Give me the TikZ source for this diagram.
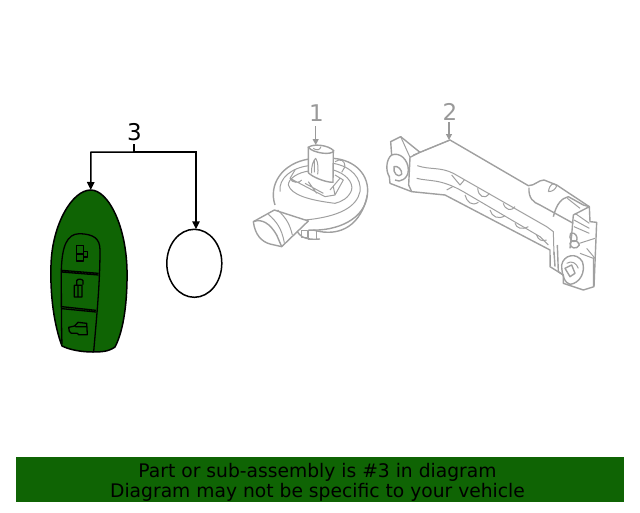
\documentclass[tikz,border=0pt]{standalone}
\usepackage{xcolor}
\usepackage{fontspec}
\setmainfont{DejaVu Sans}
\usetikzlibrary{arrows.meta,shapes.geometric}
\definecolor{green1}{HTML}{0F6404}
\definecolor{grey1}{HTML}{A0A0A0}
\definecolor{grey2}{HTML}{999999}

\begin{document}
\begin{tikzpicture}[
    x=1pt, y=-1pt,
    >={Stealth[length=8pt,width=7.5pt,inset=0pt]},
    arr/.style={->, line width=1.5pt},
    greyarr/.style={-{Stealth[length=6pt,width=6pt,inset=0pt]}, line width=1.2pt, grey2},
    plain/.style={line width=1.5pt, black},
    part/.style={line width=1.4pt, grey1, line join=round},
    thinpart/.style={line width=1pt, grey1, line join=round},
    keyline/.style={line width=1.3pt, black, line join=round},
    numlabel/.style={font=\fontsize{23}{25}\selectfont, inner sep=0pt},
    banner/.style={fill=green1, draw=none, inner sep=0pt, minimum width=608pt, minimum height=45pt},
    bannertext/.style={inner sep=0pt, align=center, font=\fontsize{18.7}{20}\selectfont},
]
\useasboundingbox (0,0) rectangle (640,512);

% key fob
\draw[keyline, line width=1.5pt, fill=green1]
    (90.7,190) .. controls (108,190) and (126,225) .. (127,270)
    .. controls (127.5,300) and (124,330) .. (115,347)
    .. controls (108,352) and (100,352) .. (93,352)
    .. controls (82,352) and (70,350) .. (62,346)
    .. controls (54,325) and (50,295) .. (51,265)
    .. controls (52,225) and (72,190) .. (90.7,190) -- cycle;
\begin{scope}[shift={(40,110)}, scale=1/3]
  \draw[keyline] (66,702) .. controls (64,650) and (64,560) .. (64,480)
      .. controls (66,410) and (80,372) .. (118,371)
      .. controls (160,372) and (180,385) .. (180,420)
      .. controls (180,520) and (170,620) .. (161,725);
  \draw[keyline] (64,481) -- (176,490) (64,486) -- (176,495);
  \draw[keyline] (66,590) -- (168,601) (66,596) -- (168,606);
  % button marks
  \draw[keyline] (110,406) rectangle (130,453) (110,432) -- (130,432)
      (130,424) -- (143,424) -- (143,441) -- (130,441);
  \draw[keyline] (103,526) rectangle (126,561) (114,526) -- (114,561)
      (110,526) -- (110,512) .. controls (112,506) and (126,506) .. (129,512) -- (129,524);
  \draw[keyline] (86,652) -- (104,648) -- (114,637) -- (140,640) -- (142,674) -- (116,674)
      -- (112,670) -- (94,670) -- (88,664) -- cycle (106,650) -- (142,650);
\end{scope}
\node[draw, ellipse, line width=1.5pt, minimum width=55pt, minimum height=68pt, inner sep=0pt]
    (ring) at (194.3,263.3) {};
\coordinate (keytop) at (90.7,190);
\coordinate (ringtop) at (196,229.3);
\coordinate (forkleft) at (91,152);
\coordinate (forkright) at (196,152);
\coordinate (forkmid) at (134,152);
\coordinate (forkstem) at (134,144);

\node[numlabel] (lblthree) at (134.5,132.5) {3};
\draw[plain] (forkstem) -- (forkmid);
\draw[arr] (forkmid) -- (forkleft) -- (keytop);
\draw[arr] (forkmid) -- (forkright) -- (ringtop);

% part 1
\begin{scope}[shift={(245,95)}, scale=1/3]
  \draw[part] (90,330) .. controls (70,270) and (110,205) .. (192,192);
  \draw[part] (265,190) .. controls (330,195) and (375,240) .. (367,300)
      .. controls (360,370) and (280,410) .. (190,405);
  \draw[part] (205,405) .. controls (290,430) and (350,385) .. (367,300);
  \draw[part] (155,405) .. controls (165,430) and (190,435) .. (225,432);
  \draw[thinpart] (105,290) .. controls (100,250) and (140,218) .. (192,212)
      (265,205) .. controls (320,215) and (350,250) .. (345,290)
      .. controls (335,335) and (285,365) .. (180,375);
  \draw[thinpart] (130,270) .. controls (130,250) and (160,232) .. (192,228)
      (265,225) .. controls (300,235) and (325,260) .. (320,285)
      .. controls (310,310) and (290,320) .. (270,325);
  \draw[thinpart] (130,270) .. controls (140,300) and (190,315) .. (270,325);
  % tube
  \draw[part, fill=white] (25,380) -- (88,345) -- (190,378) -- (110,455) -- (75,447)
      .. controls (50,440) and (30,420) .. (25,380) -- cycle;
  \draw[part] (25,380) .. controls (50,370) and (75,385) .. (95,420) -- (110,455);
  \draw[thinpart] (70,358) .. controls (95,380) and (110,400) .. (118,443)
      (98,345) .. controls (125,370) and (135,390) .. (142,420);
  \draw[thinpart] (170,405) rectangle (188,428) (190,405) rectangle (215,432);
  % clip and post
  \draw[thinpart] (150,225) -- (135,250) -- (240,305) -- (270,300) -- (295,255) -- (270,240)
      (135,250) .. controls (140,265) and (165,265) .. (170,255)
      (180,265) -- (235,295) (190,260) -- (215,295) (255,285) -- (285,250) (270,300) -- (265,275);
  \draw[part, fill=white] (190,155) -- (190,233) .. controls (200,245) and (240,262) .. (264,262)
      -- (265,165);
  \draw[part, fill=white] (190,157) .. controls (205,145) and (250,150) .. (266,167)
      .. controls (262,182) and (205,175) .. (190,157) -- cycle;
  \draw[thinpart] (205,160) .. controls (215,168) and (225,165) .. (228,155)
      (200,235) .. controls (198,215) and (205,195) .. (212,190)
      .. controls (220,200) and (220,225) .. (218,238) (208,195) -- (208,232);
  \draw[thinpart] (270,200) .. controls (285,190) and (300,195) .. (300,215) -- (290,232);
\end{scope}
\node[numlabel, text=grey2] (lblone) at (316.5,113.5) {1};
\coordinate (onestart) at (315.7,126);
\coordinate (oneend) at (315.7,145);
\draw[greyarr] (onestart) -- (oneend);

% part 2
\begin{scope}[shift={(380,95)}, scale=1/3]
  \draw[part] (32,140) -- (62,125) -- (120,172) -- (210,135) -- (445,272)
      .. controls (465,272) and (475,255) .. (492,255) -- (530,270) -- (628,335)
      -- (630,380) -- (650,382) -- (642,575) -- (610,585) -- (550,565) -- (550,540)
      -- (510,515) -- (510,465) -- (195,300) -- (95,290) -- (30,265) -- (28,245)
      .. controls (15,225) and (20,190) .. (35,180) -- cycle;
  \draw[part] (120,172) -- (90,187) -- (86,270) -- (95,290);
  \draw[part] (35,180) .. controls (60,170) and (85,195) .. (85,225) .. controls (85,250) and (60,265) .. (45,255);
  \draw[part] (42,215) .. controls (52,210) and (68,225) .. (65,238) .. controls (55,250) and (38,235) .. (42,215) -- cycle;
  \draw[thinpart] (62,125) -- (90,187) (100,180) -- (210,135);
  \draw[thinpart] (112,212) .. controls (150,225) and (180,215) .. (220,235)
      -- (500,395) -- (520,410) -- (522,480);
  \draw[thinpart] (110,250) .. controls (150,260) and (180,250) .. (250,290)
      -- (480,425) -- (505,450);
  \draw[thinpart] (215,240) -- (240,270) -- (253,255)
      (293,280) .. controls (295,305) and (315,315) .. (328,295)
      (370,325) .. controls (375,345) and (395,350) .. (405,335)
      (255,300) .. controls (260,320) and (275,335) .. (295,322)
      (330,345) .. controls (335,365) and (355,375) .. (375,362)
      (405,385) .. controls (410,400) and (425,405) .. (445,395)
      (470,420) .. controls (475,435) and (485,440) .. (500,435)
      (200,285) -- (218,275);
  % right end
  \draw[part] (447,278) .. controls (445,310) and (460,322) .. (480,330) -- (580,385);
  \draw[part] (520,365) .. controls (530,325) and (545,310) .. (565,305) -- (610,330) -- (628,335);
  \draw[thinpart] (505,290) .. controls (510,265) and (520,262) .. (530,272) (505,290) .. controls (520,290) and (528,280) .. (530,272);
  \draw[part] (575,420) -- (580,360) -- (628,335) (575,420) -- (570,460);
  \draw[thinpart] (585,355) -- (628,385) (582,375) -- (628,400) (582,395) -- (628,415) (562,310) -- (600,340);
  \draw[part] (572,415) .. controls (565,430) and (575,445) .. (590,438) .. controls (595,425) and (585,410) .. (572,415) -- cycle;
  \draw[part] (570,445) .. controls (570,460) and (590,465) .. (598,450) .. controls (595,435) and (575,432) .. (570,445) -- cycle;
  \draw[thinpart] (598,445) -- (645,430) (620,460) -- (645,490) (600,475) -- (640,490) -- (640,575);
  \draw[part] (545,510) .. controls (550,480) and (590,470) .. (607,500)
      .. controls (618,530) and (600,565) .. (570,568) .. controls (555,565) and (545,540) .. (545,510) -- cycle;
  \draw[part] (555,520) -- (575,510) -- (585,535) -- (570,545) -- cycle;
  \draw[thinpart] (560,505) .. controls (575,495) and (590,505) .. (595,520);
  \draw[part] (522,470) -- (525,515) (532,450) -- (535,530) -- (550,540);
  \draw[line width=1.3pt, grey2] (512,480) -- (512,512);
\end{scope}
\node[numlabel, text=grey2] (lbltwo) at (450,112) {2};
\coordinate (twostart) at (449,122);
\coordinate (twoend) at (449,140);
\draw[greyarr] (twostart) -- (twoend);

% footer
\node[banner] (footer) at (320,479.5) {};
\node[bannertext] (footertext) at (317.5,482) {Part or sub-assembly is \#3 in diagram\\Diagram may not be specific to your vehicle};
\end{tikzpicture}
\end{document}
